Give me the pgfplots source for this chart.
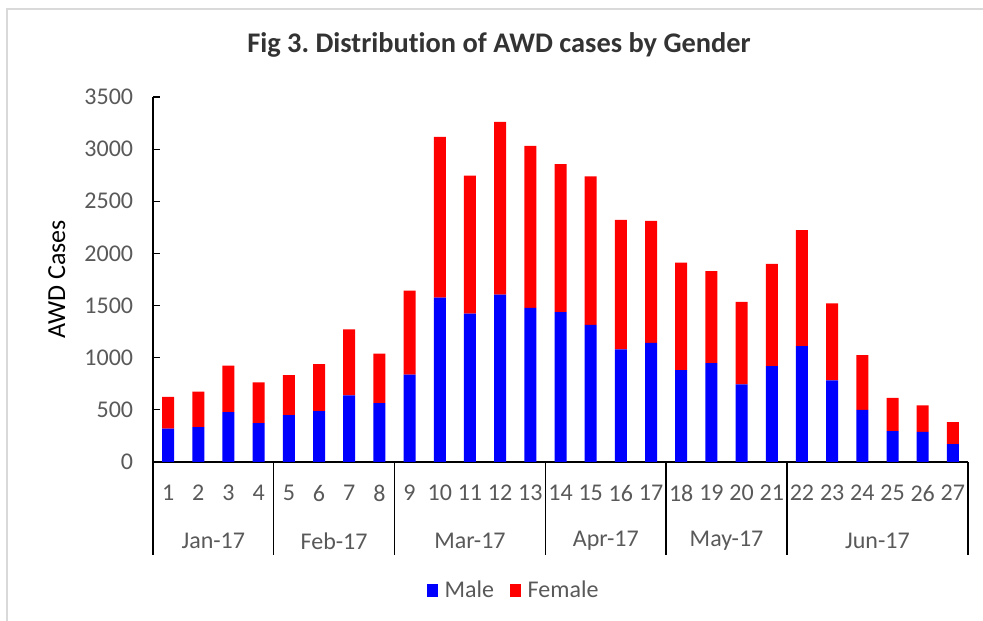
\documentclass[border=0pt]{standalone}
\usepackage{fontspec}
\setmainfont{Carlito}[Ligatures=NoCommon]
\usepackage{pgfplots}
\pgfplotsset{compat=1.18}
\definecolor{txtgray}{RGB}{89,89,89}
\definecolor{malebl}{RGB}{0,0,255}
\definecolor{femred}{RGB}{255,0,0}
\tikzset{
  month/.style={font=\fontsize{18}{20}\selectfont, text=txtgray, yshift=-59.25pt},
  sep/.style={line width=1.1pt},
}
\frenchspacing

\begin{document}
\begin{tikzpicture}[x=0.75pt,y=0.75pt]
\path[use as bounding box] (0,0) rectangle (983,621);
\draw[black!15, line width=1.2pt] (7,-2) -- (7,612) -- (983,612);
\node[font=\bfseries\fontsize{21.3}{24}\selectfont, text=black!80] at (499,576) {Fig 3. Distribution of AWD cases by Gender};
\begin{axis}[
  at={(114.75pt,119.25pt)}, anchor=south west,
  scale only axis, width=611.25pt, height=273.75pt,
  ybar stacked, bar width=9pt,
  xmin=0.5, xmax=27.5, ymin=0, ymax=3500,
  xtick={1,...,27},
  ytick={0,500,...,3500},
  scaled y ticks=false,
  /pgf/number format/1000 sep={},
  /pgf/number format/assume math mode=true,
  axis x line*=bottom, axis y line*=left,
  x axis line style={line width=1.4pt},
  y axis line style={line width=0.8pt},
  tick align=inside,
  major tick length=5.25pt,
  xtick style={draw=none},
  ytick style={black, line width=0.8pt},
  tick label style={font=\fontsize{18}{20}\selectfont, text=txtgray},
  xticklabel style={anchor=center, yshift=-23.25pt},
  yticklabel style={xshift=-11.4pt},
  ylabel={AWD Cases},
  ylabel style={at={(axis description cs:-0.118,0.5)}, anchor=center, font=\fontsize{19.5}{22}\selectfont, text=black},
  clip=false,
  legend columns=2,
  legend style={draw=none, at={(axis description cs:0.443,-0.351)}, anchor=center,
    font=\fontsize{18}{20}\selectfont, text=txtgray,
    /tikz/every odd column/.append style={column sep=3pt},
    /tikz/every even column/.append style={column sep=10pt}},
  legend image code/.code={\fill[#1] (0pt,-4.9pt) rectangle (8.25pt,4.9pt);},
]
\addplot[fill=malebl, draw=none] coordinates {
(1,321) (2,334) (3,478) (4,373) (5,449) (6,487) (7,640) (8,564) (9,837)
(10,1576) (11,1423) (12,1605) (13,1477) (14,1436) (15,1315) (16,1080) (17,1143)
(18,882) (19,949) (20,745) (21,920) (22,1111) (23,783) (24,500) (25,296) (26,290) (27,172)};
\addplot[fill=femred, draw=none] coordinates {
(1,303) (2,341) (3,445) (4,391) (5,385) (6,452) (7,631) (8,474) (9,806)
(10,1542) (11,1322) (12,1656) (13,1555) (14,1421) (15,1424) (16,1242) (17,1169)
(18,1029) (19,882) (20,790) (21,981) (22,1112) (23,739) (24,525) (25,318) (26,254) (27,210)};
\legend{Male, Female}
% month separators below the axis
\draw[sep] (axis cs:0.5,0) -- ++(0pt,-69.75pt);
\draw[sep] (axis cs:4.5,0) -- ++(0pt,-69.75pt);
\draw[sep] (axis cs:8.5,0) -- ++(0pt,-69.75pt);
\draw[sep] (axis cs:13.5,0) -- ++(0pt,-69.75pt);
\draw[sep] (axis cs:17.5,0) -- ++(0pt,-69.75pt);
\draw[sep] (axis cs:21.5,0) -- ++(0pt,-69.75pt);
\draw[sep] (axis cs:27.5,0) -- ++(0pt,-69.75pt);
\node[month] at (axis cs:2.5,0) {Jan-17};
\node[month] at (axis cs:6.5,0) {Feb-17};
\node[month] at (axis cs:11,0) {Mar-17};
\node[month] at (axis cs:15.5,0) {Apr-17};
\node[month] at (axis cs:19.5,0) {May-17};
\node[month] at (axis cs:24.5,0) {Jun-17};
\end{axis}
\end{tikzpicture}
\end{document}
